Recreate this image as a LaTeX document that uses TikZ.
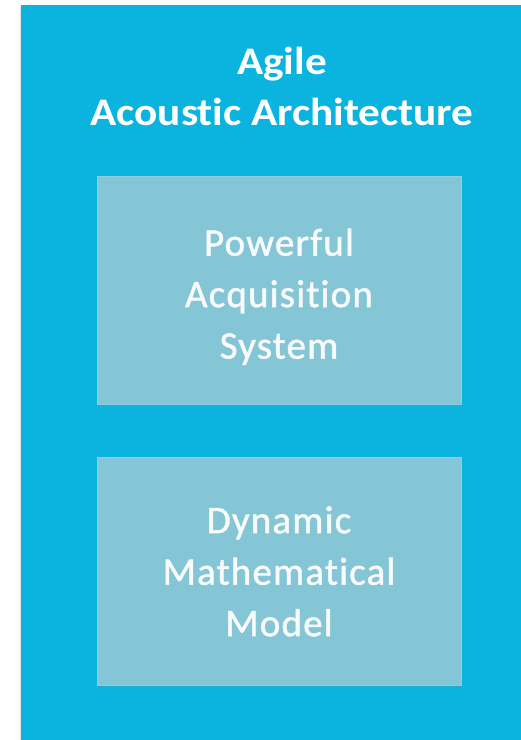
\documentclass[tikz,border=0pt]{standalone}
\usepackage{fontspec}
\setmainfont{Carlito}[Ligatures=NoCommon]
\newfontfamily\titlefont{Carlito}[Ligatures=NoCommon,FakeStretch=1.11]
\newfontfamily\boxfont{Carlito}[Ligatures=NoCommon,LetterSpace=3.0,FakeBold=1.3]
\usepackage{tikz}
\usetikzlibrary{positioning,shadows}
\definecolor{panelblue}{HTML}{0AB4DE}
\definecolor{boxblue}{HTML}{84C5D6}
\definecolor{boxedge}{HTML}{92CEDD}

\begin{document}
\begin{tikzpicture}[
  x=1pt,y=-1pt,
  node distance=53pt,
  panel/.style={fill=panelblue,draw=none,drop shadow={shadow xshift=-1pt,shadow yshift=-1pt,opacity=0.2}},
  heading/.style={align=center,text=white,inner sep=0pt,font=\titlefont\bfseries\fontsize{39}{51}\selectfont},
  box/.style={draw=boxedge,fill=boxblue,align=center,text=white!94!boxblue,
    minimum width=364pt,minimum height=228pt,inner sep=0pt,
    font=\boxfont\fontsize{39}{51.5}\selectfont,
    drop shadow={shadow xshift=1pt,shadow yshift=-2pt,opacity=0.18}}
]
\useasboundingbox (0,0) rectangle (521,740);
\path[panel] (21,5) rectangle (530,750);
\node[heading] (title) at (282,86) {Agile\\Acoustic Architecture};
\node[box] (acq) at (279,290) {\strut\\[-47pt]Powerful\\Acquisition\\System};
\node[box,below=of acq] (model) {Dynamic\\Mathematical\\Model};
\end{tikzpicture}
\end{document}
